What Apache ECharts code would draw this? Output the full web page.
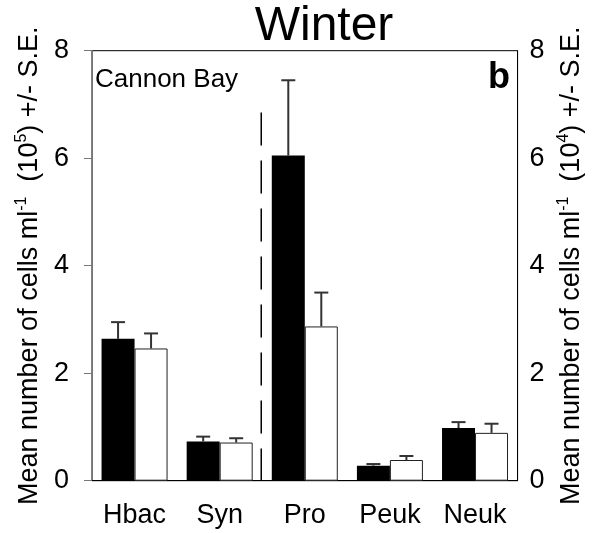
<!DOCTYPE html>
<html>
<head>
<meta charset="utf-8">
<script src="https://cdn.jsdelivr.net/npm/echarts@6/dist/echarts.min.js"></script>
<style>
html,body{margin:0;padding:0;background:#fff;}
#chart{width:593px;height:533px;}
</style>
</head>
<body>
<div id="chart"></div>
<script>
const categories = ['Hbac', 'Syn', 'Pro', 'Peuk', 'Neuk'];
const blackValues = [2.64, 0.73, 6.05, 0.28, 0.98];
const blackErrors = [0.31, 0.09, 1.40, 0.03, 0.11];
const whiteValues = [2.46, 0.71, 2.87, 0.385, 0.89];
const whiteErrors = [0.28, 0.08, 0.63, 0.075, 0.17];
const yTicks = [0, 2, 4, 6, 8];
const dividerAfter = 1;      // dashed divider after 'Syn'
const dividerTop = 6.85;

const FONT = 'Liberation Sans, Arial, sans-serif';
const BAR_W = 33;

function errRender(offset) {
  return function (params, api) {
    const i = api.value(0), v = api.value(1), e = api.value(2);
    const p0 = api.coord([i, v]);
    const p1 = api.coord([i, v + e]);
    const x = p0[0] + offset;
    const st = { stroke: '#333', lineWidth: 2 };
    return {
      type: 'group',
      children: [
        { type: 'line', shape: { x1: x, y1: p0[1], x2: x, y2: p1[1] }, style: st },
        { type: 'line', shape: { x1: x - 7, y1: p1[1], x2: x + 7, y2: p1[1] }, style: st }
      ]
    };
  };
}

const chart = echarts.init(document.getElementById('chart'));
const axisName = (exp) => 'Mean number of cells ml{sup|-1}  (10{sup|' + exp + '}) +/- S.E.';
const nameStyle = {
  fontFamily: FONT, fontSize: 27, color: '#000',
  rich: { sup: { fontFamily: FONT, fontSize: 16, color: '#000', verticalAlign: 'top', lineHeight: 32 } }
};

chart.setOption({
  animation: false,
  backgroundColor: '#fff',
  title: {
    text: 'Winter', left: 324, top: 3, textAlign: 'center', padding: 0,
    textStyle: { fontFamily: FONT, fontSize: 48, fontWeight: 'normal', color: '#000' }
  },
  grid: {
    left: 92, right: 71, top: 50.7, bottom: 52.3,
    show: true, borderColor: '#000', borderWidth: 1, backgroundColor: 'transparent'
  },
  xAxis: {
    type: 'category', data: categories,
    axisLine: { lineStyle: { color: '#000', width: 1 } },
    axisTick: { alignWithLabel: true, length: 7, lineStyle: { color: '#555' } },
    axisLabel: { fontFamily: FONT, fontSize: 27, color: '#000', margin: 21 }
  },
  yAxis: [
    {
      type: 'value', min: 0, max: 8, interval: 2, position: 'left',
      axisLine: { show: true, lineStyle: { color: '#777' } },
      axisTick: { show: true, length: 8, lineStyle: { color: '#777' } },
      axisLabel: { fontFamily: FONT, fontSize: 27, color: '#000', margin: 23,
        formatter: v => yTicks.includes(v) ? String(v) : '' },
      splitLine: { show: false },
      name: axisName(5), nameLocation: 'middle', nameRotate: 90, nameGap: 46,
      nameTextStyle: nameStyle
    },
    {
      type: 'value', min: 0, max: 8, interval: 2, position: 'right',
      axisLine: { show: true, lineStyle: { color: '#000' } },
      axisTick: { show: false },
      axisLabel: { fontFamily: FONT, fontSize: 27, color: '#000', margin: 12,
        formatter: v => yTicks.includes(v) ? String(v) : '' },
      splitLine: { show: false },
      name: axisName(4), nameLocation: 'middle', nameRotate: 90, nameGap: 36,
      nameTextStyle: nameStyle
    }
  ],
  graphic: [
    { type: 'text', left: 95, top: 67, style: { text: 'Cannon Bay', fontFamily: FONT, fontSize: 26, fill: '#000' } },
    { type: 'text', right: 83, top: 60, style: { text: 'b', fontFamily: FONT, fontSize: 36, fontWeight: 'bold', fill: '#000' } }
  ],
  series: [
    {
      type: 'bar', data: blackValues, barWidth: BAR_W, barGap: '0%',
      itemStyle: { color: '#000', borderColor: '#000', borderWidth: 0 }
    },
    {
      type: 'bar', data: whiteValues, barWidth: BAR_W, barGap: '0%',
      itemStyle: { color: '#fff', borderColor: '#222', borderWidth: 1 }
    },
    {
      type: 'custom', renderItem: errRender(-BAR_W / 2), z: 5,
      data: blackValues.map((v, i) => [i, v, blackErrors[i]]), encode: { x: 0, y: 1 }
    },
    {
      type: 'custom', renderItem: errRender(BAR_W / 2), z: 5,
      data: whiteValues.map((v, i) => [i, v, whiteErrors[i]]), encode: { x: 0, y: 1 }
    },
    {
      type: 'custom', z: 5,
      data: [[dividerAfter, dividerTop]], encode: { x: 0, y: 1 },
      renderItem: function (params, api) {
        const i = api.value(0);
        const top = api.coord([i, api.value(1)]);
        const bottom = api.coord([i, 0]);
        const bw = api.size([1, 0])[0];
        const x = top[0] + bw / 2 - 1;
        return {
          type: 'line',
          shape: { x1: x, y1: top[1], x2: x, y2: bottom[1] },
          style: { stroke: '#000', lineWidth: 1.5, lineDash: [33, 15] }
        };
      }
    }
  ]
});
</script>
</body>
</html>
